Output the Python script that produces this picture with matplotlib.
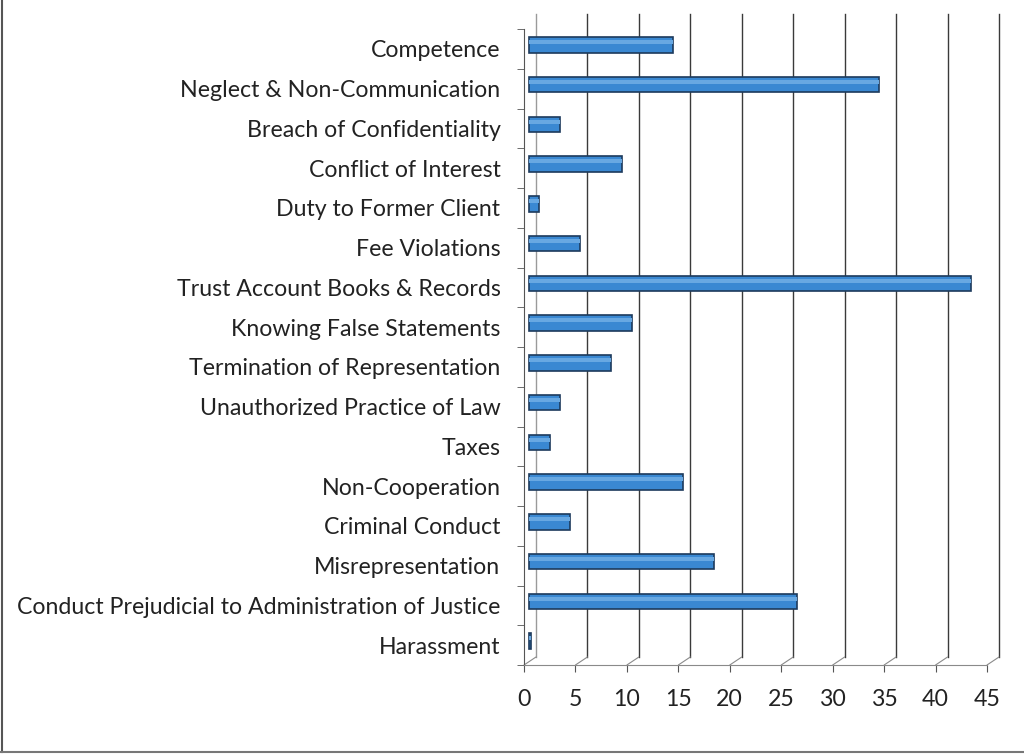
import matplotlib.pyplot as plt
from matplotlib.transforms import ScaledTranslation
from matplotlib.patches import ConnectionPatch

# categorias y cantidades
categorias = ['Competence', 'Neglect & Non-Communication', 'Breach of Confidentiality',
              'Conflict of Interest', 'Duty to Former Client', 'Fee Violations',
              'Trust Account Books & Records', 'Knowing False Statements',
              'Termination of Representation', 'Unauthorized Practice of Law', 'Taxes',
              'Non-Cooperation', 'Criminal Conduct', 'Misrepresentation',
              'Conduct Prejudicial to Administration of Justice', 'Harassment']
valores = [14, 34, 3, 9, 1, 5, 43, 10, 8, 3, 2, 15, 4, 18, 26, 0.2]
marcas_x = [0, 5, 10, 15, 20, 25, 30, 35, 40, 45]

plt.rcParams['font.family'] = ['Lato', 'DejaVu Sans']

fig = plt.figure(figsize=(10.24, 7.55), dpi=100)
ax = fig.add_axes([524 / 1024, 90 / 755, 463 / 1024, 636 / 755])

n = len(categorias)
pos = list(range(n))

# desplazamientos para simular la profundidad 3D
fondo = ax.transData + ScaledTranslation(0.12, 0.08, fig.dpi_scale_trans)
medio = ax.transData + ScaledTranslation(0.05, 0.04, fig.dpi_scale_trans)

for v in marcas_x:
    ax.plot([v, v], [n - 0.5, -0.68], color='#3a3a3a' if v else '#9a9a9a',
            lw=1.0, transform=fondo, clip_on=False, zorder=1)
    con = ConnectionPatch(xyA=(v, n - 0.5), coordsA=ax.transData,
                          xyB=(v, n - 0.5), coordsB=fondo,
                          color='#8a8a8a', lw=0.8, zorder=1)
    ax.add_artist(con)

ax.barh(pos, valores, height=0.39, color='#3a88d2', edgecolor='#1d3a5c',
        lw=1.2, transform=medio, zorder=3, clip_on=False)
ax.barh([p - 0.07 for p in pos], valores, height=0.1, color='#68a8e2',
        lw=0, transform=medio, zorder=4, clip_on=False)

ax.set_xlim(0, 45)
ax.set_ylim(n - 0.5, -0.5)
ax.set_xticks(marcas_x)
ax.set_yticks(pos)
ax.set_yticklabels(categorias)
ax.set_yticks([p - 0.5 for p in range(n + 1)], minor=True)
ax.tick_params(axis='y', which='major', length=0, pad=17, labelsize=16.7, labelcolor='#222222')
ax.tick_params(axis='y', which='minor', length=5, color='#555555', direction='out')
ax.tick_params(axis='x', length=5, color='#555555', pad=12, labelsize=16.7, labelcolor='#222222')

for lado in ['top', 'right']:
    ax.spines[lado].set_visible(False)
ax.spines['left'].set_color('#555555')
ax.spines['bottom'].set_color('#8a8a8a')
ax.set_facecolor('none')

# marco del escaneo
fig.add_artist(plt.Line2D([2 / 1024, 2 / 1024], [0.004, 1], color='#555555', lw=1.5))
fig.add_artist(plt.Line2D([0, 1], [3 / 755, 3 / 755], color='#777777', lw=1.5))

fig.savefig('out.png', dpi=100)
